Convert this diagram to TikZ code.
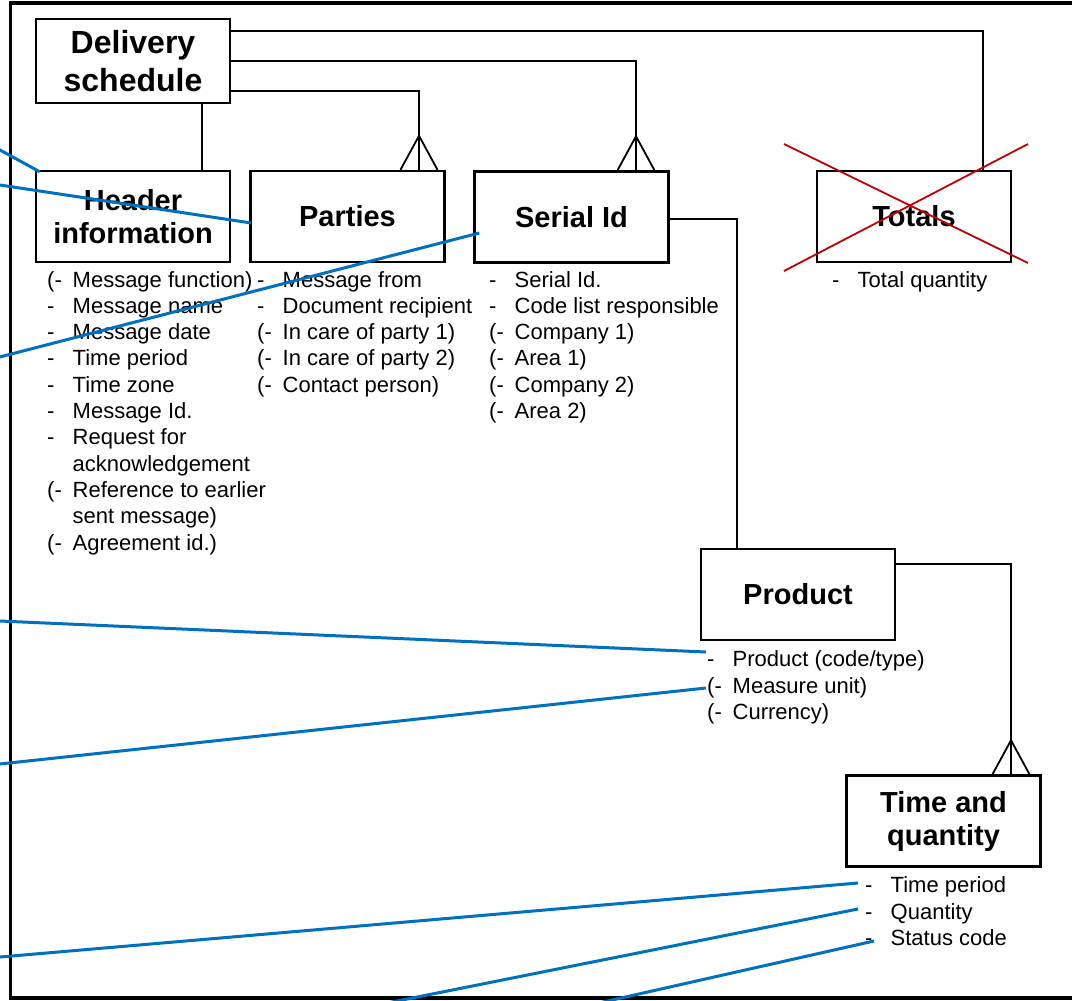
\documentclass[tikz,border=0pt]{standalone}
\usepackage{fontspec}
\setmainfont{Liberation Sans}
\usetikzlibrary{calc}

\definecolor{linkblue}{HTML}{0070C0}
\definecolor{crossred}{HTML}{C00000}

\tikzset{
  entity/.style={draw,line width=2.4pt,fill=white,minimum width=194pt,minimum height=91pt,
                 inner sep=0pt,align=center,font=\fontsize{29}{33}\selectfont\bfseries},
  attr list/.style={inner sep=0pt,anchor=base west,font=\fontsize{22}{26.3}\selectfont},
  rel/.style={line width=1.8pt},
  note link/.style={draw=linkblue,line width=3pt},
}

% crow's foot on top of an entity
\newcommand{\crowsfoot}[2]{%
  \draw[rel] ([xshift=#2-18.5pt]#1.north) -- ([xshift=#2,yshift=34pt]#1.north)
    -- ([xshift=#2+18.5pt]#1.north);}

\begin{document}
\begin{tikzpicture}[x=1pt,y=-1pt]
  \useasboundingbox (0,0) rectangle (1072,1001);
  \clip (0,0) rectangle (1072,1001);

  % frame
  \draw[line width=3.2pt] (1090,3) -- (10.5,3) -- (10.5,998) -- (1090,998);

  % entities
  \node[entity,minimum height=84pt,font=\fontsize{32}{38}\selectfont\bfseries] (ds) at (133,61) {Delivery\\schedule};
  \node[entity] (hdr) at (133,216.5) {Header\\information};
  \node[entity] (par) at (347.5,216.5) {Parties};
  \node[entity] (ser) at (571.5,217) {Serial Id};
  \node[entity] (tot) at (914,216.5) {Totals};
  \node[entity] (prod) at (798,594.5) {Product};
  \node[entity] (tq) at (943.5,821) {Time and\\quantity};

  % attributes
  \node[attr list] (hdrlist) at (47,287) {\begin{tabular}[t]{@{}p{25.5pt}@{}l@{}}
    (- & Message function)\\
    -  & Message name\\
    -  & Message date\\
    -  & Time period\\
    -  & Time zone\\
    -  & Message Id.\\
    -  & Request for\\
       & acknowledgement\\
    (- & Reference to earlier\\
       & sent message)\\
    (- & Agreement id.)
  \end{tabular}};
  \node[attr list] (parlist) at (257,287) {\begin{tabular}[t]{@{}p{25.5pt}@{}l@{}}
    -  & Message from\\
    -  & Document recipient\\
    (- & In care of party 1)\\
    (- & In care of party 2)\\
    (- & Contact person)
  \end{tabular}};
  \node[attr list] (serlist) at (489,287) {\begin{tabular}[t]{@{}p{25.5pt}@{}l@{}}
    -  & Serial Id.\\
    -  & Code list responsible\\
    (- & Company 1)\\
    (- & Area 1)\\
    (- & Company 2)\\
    (- & Area 2)
  \end{tabular}};
  \node[attr list] (totlist) at (832,287) {\begin{tabular}[t]{@{}p{25.5pt}@{}l@{}}
    -  & Total quantity
  \end{tabular}};
  \node[attr list] (prodlist) at (707,666.7) {\begin{tabular}[t]{@{}p{25.5pt}@{}l@{}}
    -  & Product (code/type)\\
    (- & Measure unit)\\
    (- & Currency)
  \end{tabular}};
  \node[attr list] (tqlist) at (865,892.7) {\begin{tabular}[t]{@{}p{25.5pt}@{}l@{}}
    -  & Time period\\
    -  & Quantity\\
    -  & Status code
  \end{tabular}};

  % relationships
  \draw[rel] ([yshift=-13.5pt]ds.north east) -| ([xshift=69pt]tot.north);
  \draw[rel] (ds.east) -| ([xshift=64.5pt]ser.north);
  \draw[rel] ([yshift=13.5pt]ds.south east) -| ([xshift=71.5pt]par.north);
  \draw[rel] ([xshift=69pt]ds.south) -- ([xshift=69pt]hdr.north);
  \draw[rel] ([yshift=-2pt]ser.east) -| ([xshift=-61pt]prod.north);
  \draw[rel] ([yshift=-16pt]prod.north east) -| ([xshift=67.5pt]tq.north);
  \crowsfoot{par}{71.5pt}
  \crowsfoot{ser}{64.5pt}
  \crowsfoot{tq}{67.5pt}

  % totals crossed out
  \draw[crossred,line width=1.8pt] (784,144) -- (1028,263);
  \draw[crossred,line width=1.8pt] (784,271) -- (1028,144);

  % free ends of the links
  \coordinate (l1) at (-30,133.6);
  \coordinate (l2) at (-30,180.5);
  \coordinate (l3) at (-30,364.7);
  \coordinate (l4) at (-30,619.7);
  \coordinate (l5) at (-30,767.2);
  \coordinate (l6) at (-30,959.6);
  \coordinate (l7) at (252,1030);
  \coordinate (l8) at (479,1030);
  \coordinate (pr1) at (706,652);
  \coordinate (pr2) at (706,688);
  \coordinate (tq1) at (858,883);
  \coordinate (tq2) at (858,909);
  \coordinate (tq3) at (874,941);

  % links
  \draw[note link] (l1) -- ([xshift=5pt,yshift=-2pt]hdr.north west);
  \draw[note link] (l2) -- ([xshift=2pt,yshift=-6.5pt]par.west);
  \draw[note link] (l3) -- ([xshift=6pt,yshift=-16pt]ser.west);
  \draw[note link] (l4) -- (pr1);
  \draw[note link] (l5) -- (pr2);
  \draw[note link] (l6) -- (tq1);
  \draw[note link] (l7) -- (tq2);
  \draw[note link] (l8) -- (tq3);
\end{tikzpicture}
\end{document}
